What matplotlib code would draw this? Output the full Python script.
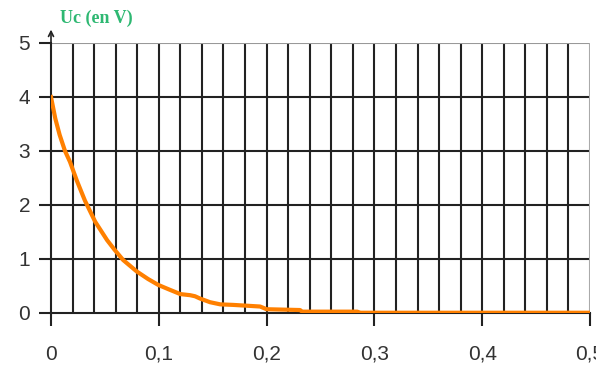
import matplotlib.pyplot as plt

t = [0, 0.004, 0.008, 0.013, 0.0176, 0.024, 0.0315, 0.041, 0.052, 0.059, 0.067,
     0.0795, 0.09, 0.0995, 0.109, 0.12, 0.129, 0.1336, 0.138, 0.1475, 0.157,
     0.169, 0.194, 0.2, 0.231, 0.233, 0.284, 0.287, 0.5]
uc = [4.0, 3.6, 3.3, 3.0, 2.8, 2.45, 2.08, 1.69, 1.35, 1.17, 0.98,
      0.77, 0.63, 0.52, 0.44, 0.35, 0.33, 0.31, 0.27, 0.2, 0.16,
      0.15, 0.12, 0.07, 0.055, 0.025, 0.025, 0.005, 0.005]

x_ticks = [0, 0.1, 0.2, 0.3, 0.4, 0.5]
x_labels = ['0', '0,1', '0,2', '0,3', '0,4', '0,5']
y_ticks = [0, 1, 2, 3, 4, 5]

fig = plt.figure(figsize=(5.96, 3.66), dpi=100)
ax = fig.add_axes([51/596, 53/366, 539/596, 270/366])

# quadrillage : une ligne verticale tous les 0,02
for k in range(1, 25):
    ax.axvline(k * 0.02, color='#222222', lw=1.5, zorder=1)
for v in y_ticks[1:5]:
    ax.axhline(v, color='#222222', lw=1.5, zorder=1)
ax.axhline(5, color='#999999', lw=1.5, zorder=1)
ax.axvline(0.5, color='#aaaaaa', lw=1.5, zorder=1)

ax.plot(t, uc, color='#ff8000', lw=3, zorder=3, solid_joinstyle='round')

ax.set_xlim(0, 0.5)
ax.set_ylim(0, 5)
for s in ['top', 'right']:
    ax.spines[s].set_visible(False)
ax.spines['left'].set_color('#222222')
ax.spines['bottom'].set_color('#222222')
ax.spines['left'].set_linewidth(1.5)
ax.spines['bottom'].set_linewidth(1.5)

# flèche de l'axe des ordonnées
ax.annotate('', xy=(0, 5.3), xytext=(0, 4.9),
            arrowprops=dict(arrowstyle='->', color='#222222', lw=1.2,
                            mutation_scale=9),
            annotation_clip=False)

ax.set_xticks(x_ticks)
ax.set_xticklabels(x_labels)
ax.set_yticks(y_ticks)
ax.tick_params(axis='both', length=9, width=1.5, color='#222222',
               labelsize=15, labelcolor='#333333')
ax.tick_params(axis='x', pad=14)
ax.tick_params(axis='y', pad=6)
for lab in ax.get_xticklabels() + ax.get_yticklabels():
    lab.set_fontfamily('Liberation Sans')

fig.text(60/596, 1 - 18/366, 'Uc (en V)', color='#2eb872', fontsize=13,
         fontweight='bold', family='Liberation Serif', va='center', ha='left')

fig.savefig('out.png', dpi=100)
